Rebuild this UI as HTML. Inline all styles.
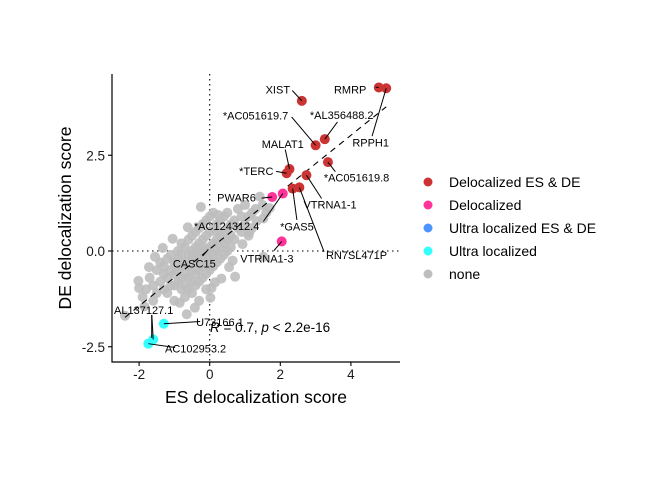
<!DOCTYPE html>
<html><head><meta charset="utf-8"><style>
html,body{margin:0;padding:0;background:#fff;}
svg{display:block;font-family:"Liberation Sans",Arial,sans-serif;}
</style></head><body>
<svg id="chart" width="672" height="480"></svg>
<script>
// gray (none) points
const grayX=[-2.4,-2.0,-1.9,-1.8,-1.7,-1.6,-1.6,-1.5,-1.5,-1.4,-1.4,-1.3,-1.3,-1.3,-1.2,-1.2,-1.2,-1.1,-1.1,-1.1,-1.0,-1.0,-1.0,-1.0,-0.9,-0.9,-0.9,-0.9,-0.8,-0.8,-0.8,-0.8,-0.8,-0.7,-0.7,-0.7,-0.7,-0.7,-0.65,-0.6,-0.6,-0.6,-0.6,-0.6,-0.5,-0.5,-0.5,-0.5,-0.5,-0.5,-0.4,-0.4,-0.4,-0.4,-0.4,-0.4,-0.3,-0.3,-0.3,-0.3,-0.3,-0.3,-0.3,-0.2,-0.2,-0.2,-0.2,-0.2,-0.2,-0.1,-0.1,-0.1,-0.1,-0.1,-0.1,-0.08,0.0,0.0,0.0,0.0,0.0,0.05,0.1,0.1,0.1,0.1,0.1,0.2,0.2,0.2,0.2,0.2,0.24,0.3,0.3,0.3,0.3,0.4,0.4,0.4,0.4,0.5,0.5,0.5,0.5,0.6,0.6,0.6,0.7,0.72,0.7,0.8,0.8,0.9,0.9,1.0,1.0,1.1,1.1,1.2,1.2,1.3,1.42,1.5,1.52,1.52,1.6,-1.55,-1.72,-1.33,-1.05,-0.62,0.93,1.12,1.33,0.55,0.33,0.02,-0.42,1.7,-2.02,-1.85,-0.85,0.15,0.65,-0.25];
const grayY=[-1.69,-0.97,-1.2,-1.0,-0.7,-1.3,-0.9,-0.5,-1.1,-0.3,-0.8,-0.6,-1.0,-0.4,-0.2,-0.7,-1.1,-0.5,-0.9,-0.1,-0.3,-0.6,-0.9,-1.3,-0.2,-0.5,-0.8,0.0,-0.1,-0.4,-0.7,-1.0,0.2,-0.3,-0.6,0.1,-0.9,-1.2,-1.65,-0.1,-0.4,-0.7,0.3,-1.0,-0.2,-0.5,0.0,-0.8,0.4,-1.1,-0.3,0.1,-0.6,0.5,-0.9,-0.1,-0.2,0.2,-0.5,0.6,-0.8,-1.3,0.0,-0.1,0.3,-0.4,0.7,-0.7,0.1,0.0,0.4,-0.3,0.8,-0.6,-1.0,0.03,0.1,0.5,-0.2,0.9,-0.5,-0.97,0.2,0.6,-0.1,1.0,-0.4,0.3,0.7,0.0,0.5,-0.3,0.94,0.4,0.8,0.1,-0.2,0.5,0.2,0.9,-0.1,0.6,0.3,1.0,0.0,0.7,0.4,0.1,0.8,-0.67,0.3,0.6,1.1,0.9,0.5,0.7,1.2,0.4,0.9,1.0,0.6,1.1,1.42,1.2,-0.15,0.85,1.0,-0.15,-0.42,0.08,0.32,0.62,0.18,0.48,0.78,-0.42,-0.72,-1.22,-1.48,1.12,-0.78,-1.45,-1.35,-0.82,-0.25,1.15];
// highlighted genes
const hlName=["XIST","RMRP","RPPH1","*AL356488.2","*AC051619.7","*AC051619.8","MALAT1","*TERC","VTRNA1-1","*GAS5","RN7SL471P","PWAR6","*AC124312.4","VTRNA1-3","U73166.1","AL137127.1","AC102953.2"];
const hlX=[2.61,4.79,5.0,3.26,3.0,3.35,2.26,2.18,2.74,2.35,2.54,1.77,2.07,2.04,-1.30,-1.60,-1.74];
const hlY=[3.92,4.27,4.25,2.92,2.76,2.32,2.14,2.03,1.98,1.63,1.66,1.41,1.50,0.25,-1.90,-2.31,-2.42];
const hlGroup=[0,0,0,0,0,0,0,0,0,0,0,1,1,1,3,3,3];
// label positions (data coords) and segment anchor
const labX=[1.93,3.98,4.56,3.74,1.3,4.16,2.07,1.32,3.41,2.47,4.16,0.76,0.48,1.62,0.29,-1.87,-0.4];
const labY=[4.22,4.22,2.83,3.55,3.54,1.92,2.79,2.09,1.22,0.64,-0.1,1.40,0.65,-0.19,-1.85,-1.54,-2.55];
const segX=[2.34,4.7,4.6,3.62,2.32,3.56,2.14,1.88,3.17,2.47,3.24,1.47,1.52,1.82,-0.27,-1.64,-0.98];
const segY=[4.19,4.28,3.00,3.37,3.50,2.07,2.65,2.08,1.37,0.81,-0.02,1.38,0.77,0.01,-1.84,-1.67,-2.52];
const groupNames=["Delocalized ES & DE","Delocalized","Ultra localized ES & DE","Ultra localized","none"];
const groupColors=["#cc3333","#ff3399","#4d94ff","#33ffff","#bebebe"];
const xTicks=[-2,0,2,4];
const yTicks=[-2.5,0,2.5];
const yTickLabels=["-2.5","0.0","2.5"];
const regIntercept=0.05, regSlope=0.743;

const NS="http://www.w3.org/2000/svg";
const svg=document.getElementById('chart');
const X0=209.7, XS=35.3, Y0=251, YS=38.3;
const sx=v=>X0+v*XS, sy=v=>Y0-v*YS;
const L=112, R=400, T=74, B=362;
function mk(tag,attrs,parent){const e=document.createElementNS(NS,tag);for(const k in attrs)e.setAttribute(k,attrs[k]);(parent||svg).appendChild(e);return e;}

let e=mk('line',{x1:sx(0),x2:sx(0),y1:T,y2:B,stroke:'#000','stroke-dasharray':'1.5,3.5','stroke-width':1.1});


e=mk('line',{x1:L,x2:R,y1:sy(0),y2:sy(0),stroke:'#000','stroke-dasharray':'1.5,3.5','stroke-width':1.1});



const gG=mk('g',{});


for(let i=0;i<grayX.length;i++){
  const c=mk('circle',{cx:sx(grayX[i]),cy:sy(grayY[i]),r:5,fill:'#bebebe','fill-opacity':0.9},gG);
  
  
}
e=mk('line',{x1:sx(-2.4),y1:sy(regIntercept+regSlope*-2.4),x2:sx(5.0),y2:sy(regIntercept+regSlope*5.0),stroke:'#000','stroke-width':1.1,'stroke-dasharray':'6,5'});



for(let i=0;i<hlX.length;i++){
  const c=mk('circle',{cx:sx(hlX[i]),cy:sy(hlY[i]),r:5,fill:groupColors[hlGroup[i]]});
  
  
}
for(let i=0;i<hlX.length;i++){
  const s=mk('line',{x1:sx(segX[i]),y1:sy(segY[i]),x2:sx(hlX[i]),y2:sy(hlY[i]),stroke:'#000','stroke-width':1});
  
  
  const t=mk('text',{x:sx(labX[i]),y:sy(labY[i])+4,'text-anchor':'middle','font-size':11,fill:'#000'});
  t.textContent=hlName[i];
  
  
}
e=mk('line',{x1:202.7,y1:256,x2:208.3,y2:249.3,stroke:'#000','stroke-width':1});


e=mk('text',{x:194.3,y:267.5,'text-anchor':'middle','font-size':11});
e.textContent='CASC15';


e=mk('line',{x1:151.7,y1:315,x2:151.7,y2:338,stroke:'#000','stroke-width':1});



e=mk('text',{x:210,y:332,'font-size':13.5});
e.innerHTML='<tspan font-style="italic">R</tspan> = 0.7, <tspan font-style="italic">p</tspan> &lt; 2.2e-16';



e=mk('line',{x1:L,x2:L,y1:T,y2:B+0.5,stroke:'#000','stroke-width':1.2});


e=mk('line',{x1:L-0.5,x2:R,y1:B,y2:B,stroke:'#000','stroke-width':1.2});


xTicks.forEach(v=>{
  const k=mk('line',{x1:sx(v),x2:sx(v),y1:B,y2:B+4,stroke:'#000','stroke-width':1.1});
  
  
  const t=mk('text',{x:sx(v),y:B+17,'text-anchor':'middle','font-size':13.5,fill:'#1a1a1a'});
  t.textContent=String(v);
  
  
});
yTicks.forEach((v,i)=>{
  const k=mk('line',{x1:L-4,x2:L,y1:sy(v),y2:sy(v),stroke:'#000','stroke-width':1.1});
  
  
  const t=mk('text',{x:L-7,y:sy(v)+5,'text-anchor':'end','font-size':13.5,fill:'#1a1a1a'});
  t.textContent=yTickLabels[i];
  
  
});
e=mk('text',{x:256,y:403,'text-anchor':'middle','font-size':17.5});
e.textContent='ES delocalization score';


e=mk('text',{x:0,y:0,'text-anchor':'middle','font-size':17.5,transform:'translate(71,218) rotate(-90)'});
e.textContent='DE delocalization score';



groupNames.forEach((n,i)=>{
  const g=mk('g',{});
  
  
  mk('circle',{cx:428,cy:182+i*23,r:4.5,fill:groupColors[i]},g);
  const t=mk('text',{x:449,y:187+i*23,'font-size':14},g);
  t.textContent=n;
});
</script>
</body></html>
